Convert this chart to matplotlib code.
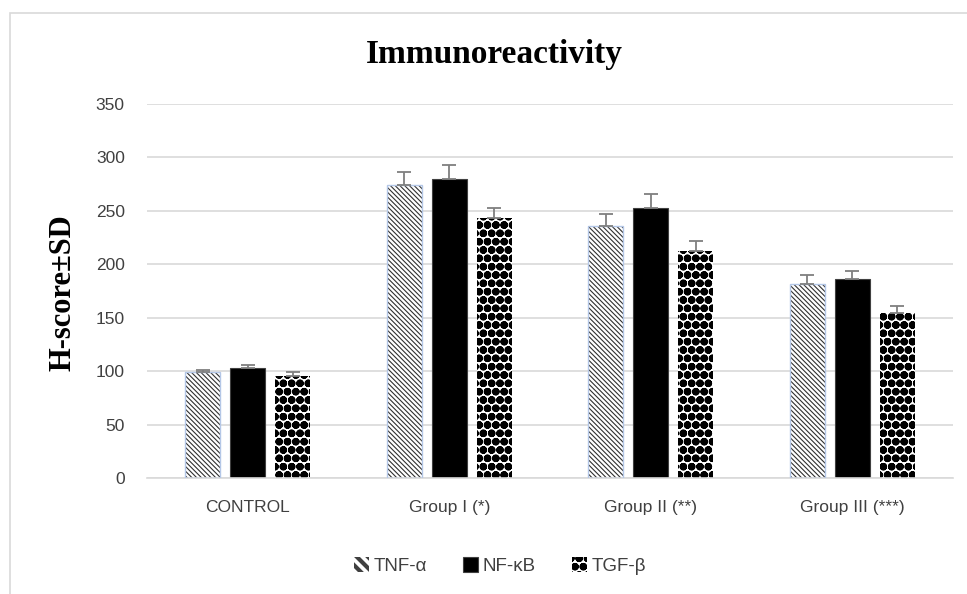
import numpy as np
import matplotlib
matplotlib.use("Agg")
import matplotlib.pyplot as plt
from matplotlib.patches import Rectangle, Patch

# values
groups = ["CONTROL", "Group I (*)", "Group II (**)", "Group III (***)"]
markers = ["TNF-\u03b1", "NF-\u03baB", "TGF-\u03b2"]
tnf = [99, 274, 236, 182]
nfkb = [103, 280, 253, 186]
tgf = [95, 243, 212, 154]
tnf_sd = [2.5, 12.5, 11, 8]
nfkb_sd = [3, 13, 13, 8]
tgf_sd = [4, 10, 10, 7]
yticks = [0, 50, 100, 150, 200, 250, 300, 350]

W, H = 967, 594
plt.rcParams["font.family"] = ["Liberation Sans", "DejaVu Sans"]
SERIF = ["Liberation Serif", "DejaVu Serif"]

fig = plt.figure(figsize=(W / 100, H / 100), dpi=100)
ax = fig.add_axes([147 / W, 1 - 478 / H, (953 - 147) / W, (478 - 104) / H])

# light outer frame of the chart area (only top and left edges are visible)
fig.patches.append(Rectangle((10 / W, -0.1), 1.2, 1.1 - 13 / H, transform=fig.transFigure,
                             fill=False, edgecolor="#d9d9d9", linewidth=1.2))

x = np.arange(len(groups))
bw, step = 0.174, 0.223
err_kw = dict(ecolor="#7f7f7f", elinewidth=1.3, capsize=5, capthick=1.3)
TNF_HATCH = "\\" * 7

# TNF: fine diagonal hatch with pale blue outline
plt.rcParams["hatch.linewidth"] = 0.8
ax.bar(x - step, tnf, bw, color="white", edgecolor="#303030", hatch=TNF_HATCH,
       linewidth=0, zorder=2)
ax.bar(x - step, tnf, bw, fill=False, edgecolor="#b4c7e7", linewidth=1.0, zorder=3)
ax.errorbar(x - step, tnf, yerr=[np.zeros(4), tnf_sd], fmt="none", zorder=4, **err_kw)
plt.rcParams["hatch.linewidth"] = 1.2
h1 = Patch(facecolor="white", edgecolor="#404040", hatch="\\\\\\", linewidth=0)

b2 = ax.bar(x, nfkb, bw, color="black", edgecolor="#404040", linewidth=0.8, zorder=2)
ax.errorbar(x, nfkb, yerr=[np.zeros(4), nfkb_sd], fmt="none", zorder=4, **err_kw)

# TGF: ball pattern
plt.rcParams["hatch.linewidth"] = 3.0
b3 = ax.bar(x + step, tgf, bw, color="white", edgecolor="black", hatch="oo",
            linewidth=0, zorder=2)
ax.errorbar(x + step, tgf, yerr=[np.zeros(4), tgf_sd], fmt="none", zorder=4, **err_kw)

ax.set_xlim(-0.5, len(groups) - 0.5)
ax.set_ylim(0, 350)
ax.set_yticks(yticks)
ax.yaxis.grid(True, color="#d9d9d9", linewidth=1.2)
ax.set_axisbelow(True)
for s in ["top", "right", "left"]:
    ax.spines[s].set_visible(False)
ax.spines["bottom"].set_color("#d9d9d9")
ax.spines["bottom"].set_linewidth(1.2)
ax.tick_params(length=0, labelsize=12.5, colors="#404040")
ax.tick_params(axis="y", pad=16)
ax.tick_params(axis="x", pad=16)
ax.set_xticks(x)
ax.set_xticklabels(groups)

fig.text(63 / W, 1 - 293 / H, "H-score\u00b1SD", rotation=90, ha="center", va="center",
         fontsize=22, fontweight="bold", family=SERIF)
fig.text(494 / W, 1 - 54 / H, "Immunoreactivity", ha="center", va="center",
         fontsize=24, fontweight="bold", family=SERIF)

leg = fig.legend([h1, b2, b3], markers, loc="center", bbox_to_anchor=(500 / W, 1 - 566 / H),
                 ncol=3, frameon=False, fontsize=13.5, handlelength=0.8, handleheight=0.8,
                 handletextpad=0.25, columnspacing=1.9)
for t in leg.get_texts():
    t.set_color("#404040")

fig.savefig("out.png", dpi=100, facecolor="white")
